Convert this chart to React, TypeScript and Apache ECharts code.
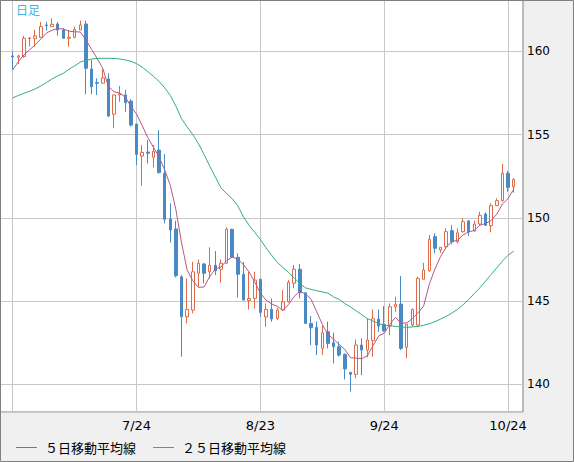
import React, { useEffect, useRef } from 'react';
import * as echarts from 'echarts';

const dates = ['6/24','6/25','6/26','6/27','6/28','7/1','7/2','7/3','7/4','7/5','7/8','7/9','7/10','7/11','7/12','7/15','7/16','7/17','7/18','7/19','7/22','7/23','7/24','7/25','7/26','7/29','7/30','7/31','8/1','8/2','8/5','8/6','8/7','8/8','8/9','8/12','8/13','8/14','8/15','8/16','8/19','8/20','8/21','8/22','8/23','8/26','8/27','8/28','8/29','8/30','9/2','9/3','9/4','9/5','9/6','9/9','9/10','9/11','9/12','9/13','9/16','9/17','9/18','9/19','9/20','9/23','9/24','9/25','9/26','9/27','9/30','10/1','10/2','10/3','10/4','10/7','10/8','10/9','10/10','10/11','10/14','10/15','10/16','10/17','10/18','10/21','10/22','10/23','10/24','10/25'];

const opens = [159.72,159.64,159.68,160.76,160.76,160.84,161.58,161.48,161.64,161.28,160.78,160.84,161.28,161.64,158.94,158.13,158.08,158.34,156.22,157.38,157.38,157.01,155.63,153.71,153.95,153.63,154.07,152.67,149.93,149.33,146.46,144.06,144.46,146.67,147.23,146.76,147.15,146.91,147.27,149.31,147.63,146.61,145.03,145.16,146.31,144.05,144.50,143.96,144.46,144.96,146.07,146.91,145.50,143.66,143.42,142.16,143.16,142.50,142.26,141.80,140.72,140.60,142.36,142.06,142.62,143.92,143.60,143.50,144.66,144.82,142.22,143.56,143.56,146.31,146.82,148.87,148.07,148.26,149.23,148.56,149.17,149.81,149.21,149.63,150.23,149.53,150.73,151.03,152.67,151.87];
const closes = [159.66,159.72,160.78,160.80,160.92,161.48,161.54,161.62,161.28,160.78,160.84,161.32,161.58,158.98,157.87,158.08,158.40,156.11,157.38,157.46,156.91,155.57,153.81,153.93,153.88,153.99,152.71,149.91,149.27,146.52,144.06,144.50,146.76,147.27,146.67,147.15,146.82,147.27,149.31,147.63,146.61,145.06,145.16,146.26,144.32,144.50,143.92,144.46,144.96,146.13,146.91,145.50,143.66,143.40,142.36,143.10,142.46,142.26,141.76,140.92,140.60,142.36,142.06,142.66,143.94,143.50,143.22,144.66,144.80,142.16,143.62,144.50,146.36,146.87,148.71,148.17,148.23,149.17,148.56,149.10,149.77,149.17,149.63,150.15,149.55,150.73,151.03,152.67,151.83,152.31];
const lows = [158.90,159.24,159.62,160.28,160.28,160.84,161.24,161.48,160.94,160.78,160.28,160.78,161.28,157.42,157.42,157.38,158.08,156.07,155.38,156.97,156.37,155.47,153.17,151.93,153.27,153.03,152.67,149.67,148.51,146.42,141.66,143.66,144.26,145.86,146.06,146.36,146.56,146.10,147.27,147.63,145.22,145.06,144.50,144.56,144.06,143.46,143.76,143.86,144.46,144.90,145.77,145.16,143.62,142.36,141.76,141.76,142.16,141.26,141.66,140.30,139.56,140.36,140.56,141.62,141.66,143.16,143.14,142.96,144.36,142.06,141.56,143.46,143.46,146.31,146.76,147.87,147.90,148.17,148.41,148.47,149.10,148.91,149.17,149.57,149.51,149.13,150.71,150.97,151.57,151.51];
const highs = [159.98,159.80,160.92,160.86,161.28,161.76,161.78,161.98,161.76,161.38,161.28,161.48,161.84,161.84,159.48,158.38,158.92,158.68,157.38,157.92,157.68,157.12,155.63,154.37,154.67,154.37,155.27,153.83,150.87,149.83,146.56,146.36,147.36,147.50,147.30,148.23,148.01,147.51,149.43,149.35,147.87,147.36,146.76,146.76,146.32,144.86,145.16,144.60,145.66,146.26,147.17,147.23,145.50,144.10,143.76,143.52,143.76,143.10,142.56,141.86,140.72,142.70,142.76,143.96,144.50,144.50,144.70,144.86,145.26,146.50,143.62,144.56,146.46,147.30,148.97,149.07,148.23,149.37,149.57,149.37,149.97,149.87,149.83,150.37,150.33,150.87,151.17,153.23,152.83,152.37];

const ma5 = [158.88,159.38,159.78,160.10,160.38,160.74,161.10,161.27,161.37,161.34,161.21,161.17,161.16,160.70,160.12,159.57,158.98,157.89,157.57,157.49,157.25,156.69,156.23,155.54,154.82,154.24,153.66,152.88,151.95,150.48,148.49,146.85,146.22,145.82,145.85,146.47,146.93,147.04,147.44,147.64,147.53,147.18,146.75,146.14,145.48,145.06,144.83,144.69,144.43,144.79,145.28,145.59,145.43,145.12,144.37,143.60,143.00,142.72,142.39,142.10,141.60,141.58,141.54,141.72,142.32,142.90,143.08,143.60,144.02,143.67,143.69,143.95,144.29,144.70,146.01,146.92,147.67,148.23,148.57,148.65,148.97,149.15,149.25,149.56,149.65,149.85,150.22,150.83,151.16,151.71];
const ma25 = [157.20,157.35,157.48,157.60,157.74,157.92,158.12,158.34,158.52,158.68,158.92,159.12,159.35,159.46,159.53,159.57,159.58,159.58,159.57,159.54,159.48,159.40,159.26,159.05,158.78,158.50,158.20,157.80,157.35,156.70,155.95,155.45,155.00,154.45,153.80,153.10,152.45,151.80,151.45,151.15,150.72,150.05,149.55,149.12,148.70,148.20,147.75,147.32,147.02,146.72,146.40,146.05,145.80,145.70,145.62,145.55,145.48,145.25,145.10,144.85,144.65,144.42,144.18,143.95,143.80,143.65,143.56,143.52,143.48,143.45,143.42,143.45,143.48,143.55,143.64,143.76,143.92,144.08,144.28,144.50,144.78,145.10,145.45,145.80,146.20,146.60,147.00,147.40,147.75,148.00];

const labelDates = ['7/24', '8/23', '9/24', '10/24'];
const gridDates = ['6/24', '7/24', '8/23', '9/24', '10/24'];
const seriesNames = ['５日移動平均線', '２５日移動平均線'];
const yMin = 138.34;
const yMax = 163.08;

export default function App() {
  const ref = useRef<HTMLDivElement>(null);
  useEffect(() => {
    document.body.style.margin = '0';
    const chart = echarts.init(ref.current!, null, { renderer: 'svg' });
    const candles = dates.map((_, i) => [opens[i], closes[i], lows[i], highs[i]]);
    chart.setOption({
      animation: false,
      backgroundColor: '#f0f0f0',
      grid: [
        { left: 0, top: 0, width: 523, height: 412, show: true, backgroundColor: '#ffffff', borderColor: '#808080', borderWidth: 1 },
        { left: 12.7, top: 0, width: 501, height: 412, show: false },
      ],
      xAxis: [
        { gridIndex: 0, type: 'value', show: false, min: 0, max: 1 },
        {
          gridIndex: 1, type: 'category', data: dates, boundaryGap: false,
          axisLine: { show: false }, axisTick: { show: false },
          axisLabel: {
            interval: (_i: number, v: string) => labelDates.includes(v),
            color: '#000', fontSize: 13, fontFamily: 'DejaVu Sans', margin: 7,
          },
          splitLine: {
            show: true,
            interval: (_i: number, v: string) => gridDates.includes(v),
            lineStyle: { color: '#c8c8c8', width: 1 },
          },
        },
      ],
      yAxis: [
        {
          gridIndex: 0, type: 'value', position: 'right', min: yMin, max: yMax,
          axisLine: { show: false }, axisTick: { show: false },
          axisLabel: { color: '#000', fontSize: 12, fontFamily: 'DejaVu Sans', margin: 4, showMinLabel: false, showMaxLabel: false },
          splitLine: { show: true, lineStyle: { color: '#c8c8c8', width: 1 } },
        },
        { gridIndex: 1, type: 'value', min: yMin, max: yMax, show: false },
      ],
      legend: {
        left: 11, top: 436, icon: 'rect', itemWidth: 21, itemHeight: 1, itemGap: 17,
        data: seriesNames,
        textStyle: { fontSize: 13, fontFamily: 'Noto Sans CJK JP', color: '#000', padding: [0, 0, 0, 3] },
      },
      graphic: [
        { type: 'text', left: 16, top: 3, z: 10, style: { text: '日足', fill: '#3cb4e6', fontSize: 12, fontFamily: 'Noto Sans CJK JP' } },
        { type: 'rect', z: 10, silent: true, shape: { x: 0.5, y: 0.5, width: 573, height: 461 }, style: { fill: 'none', stroke: '#808080', lineWidth: 1 } },
      ],
      series: [
        {
          type: 'candlestick', xAxisIndex: 1, yAxisIndex: 1, data: candles, barWidth: 3, z: 2,
          itemStyle: { color: '#ffffff', color0: '#4a8ac4', borderColor: '#de6b48', borderColor0: '#4a8ac4', borderWidth: 1 },
        },
        {
          type: 'line', name: seriesNames[0], xAxisIndex: 1, yAxisIndex: 1, data: ma5, symbol: 'none', z: 3,
          lineStyle: { color: '#b4588a', width: 1 }, itemStyle: { color: '#b4588a' },
        },
        {
          type: 'line', name: seriesNames[1], xAxisIndex: 1, yAxisIndex: 1, data: ma25, symbol: 'none', z: 3,
          lineStyle: { color: '#2fb07c', width: 1 }, itemStyle: { color: '#2fb07c' },
        },
      ],
    });
    return () => chart.dispose();
  }, []);
  return <div ref={ref} style={{ width: 574, height: 462 }} />;
}
